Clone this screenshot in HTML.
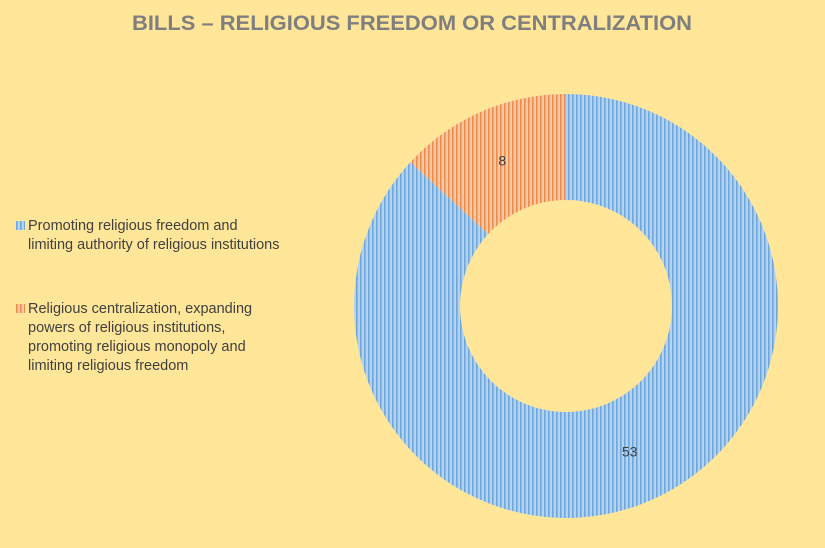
<!DOCTYPE html>
<html><head><meta charset="utf-8"><style>
html,body{margin:0;padding:0;background:#FFE699;}
svg{display:block;font-family:"Liberation Sans",sans-serif;}
</style></head><body>
<svg width="825" height="548" viewBox="0 0 825 548">
<defs>
<pattern id="pb" patternUnits="userSpaceOnUse" width="4" height="10">
<rect width="4" height="10" fill="#B4D3F0"/><rect width="1.6" height="10" fill="#6FA6DB"/>
</pattern>
<pattern id="po" patternUnits="userSpaceOnUse" width="4" height="10">
<rect width="4" height="10" fill="#F8C9A3"/><rect width="1.6" height="10" fill="#EE8C4E"/>
</pattern>
</defs>
<rect width="825" height="548" fill="#FFE699"/>
<text x="412" y="30" text-anchor="middle" font-size="21" font-weight="bold" fill="#7F7F7F" textLength="560" lengthAdjust="spacingAndGlyphs">BILLS – RELIGIOUS FREEDOM OR CENTRALIZATION</text>
<g id="slices"></g>
<g font-size="14.5" fill="#404040">
<rect x="16" y="221" width="9" height="9" fill="url(#pb)"/>
<text x="28" y="230">Promoting religious freedom and</text>
<text x="28" y="249">limiting authority of religious institutions</text>
<rect x="16" y="304" width="9" height="9" fill="url(#po)"/>
<text x="28" y="313">Religious centralization, expanding</text>
<text x="28" y="332">powers of religious institutions,</text>
<text x="28" y="351">promoting religious monopoly and</text>
<text x="28" y="370">limiting religious freedom</text>
</g>
</svg>
<script>
const categories = ["Promoting religious freedom", "Religious centralization"];
const values = [53, 8];
const fills = ["url(#pb)", "url(#po)"];
const cx = 566, cy = 306, R = 212, r = 106;
const g = document.getElementById('slices');
const NS = 'http://www.w3.org/2000/svg';
const total = values.reduce((a,b)=>a+b,0);
let a0 = -Math.PI/2;
function pt(rad, a){return [cx+rad*Math.cos(a), cy+rad*Math.sin(a)];}
values.forEach((v,i)=>{
  const a1 = a0 + v/total*2*Math.PI;
  const large = (a1-a0) > Math.PI ? 1 : 0;
  const [x0,y0]=pt(R,a0),[x1,y1]=pt(R,a1),[x2,y2]=pt(r,a1),[x3,y3]=pt(r,a0);
  const p = document.createElementNS(NS,'path');
  p.setAttribute('d',`M${x0},${y0}A${R},${R} 0 ${large} 1 ${x1},${y1}L${x2},${y2}A${r},${r} 0 ${large} 0 ${x3},${y3}Z`);
  p.setAttribute('fill',fills[i]);
  
  
  g.appendChild(p);
  const am=(a0+a1)/2; const [lx,ly]=pt((R+r)/2,am);
  const t=document.createElementNS(NS,'text');
  t.setAttribute('x',lx); t.setAttribute('y',ly+5);
  t.setAttribute('text-anchor','middle'); t.setAttribute('font-size','14'); t.setAttribute('fill','#404040');
  t.textContent=values[i];
  
  
  g.appendChild(t);
  a0=a1;
});
</script>
</body></html>
